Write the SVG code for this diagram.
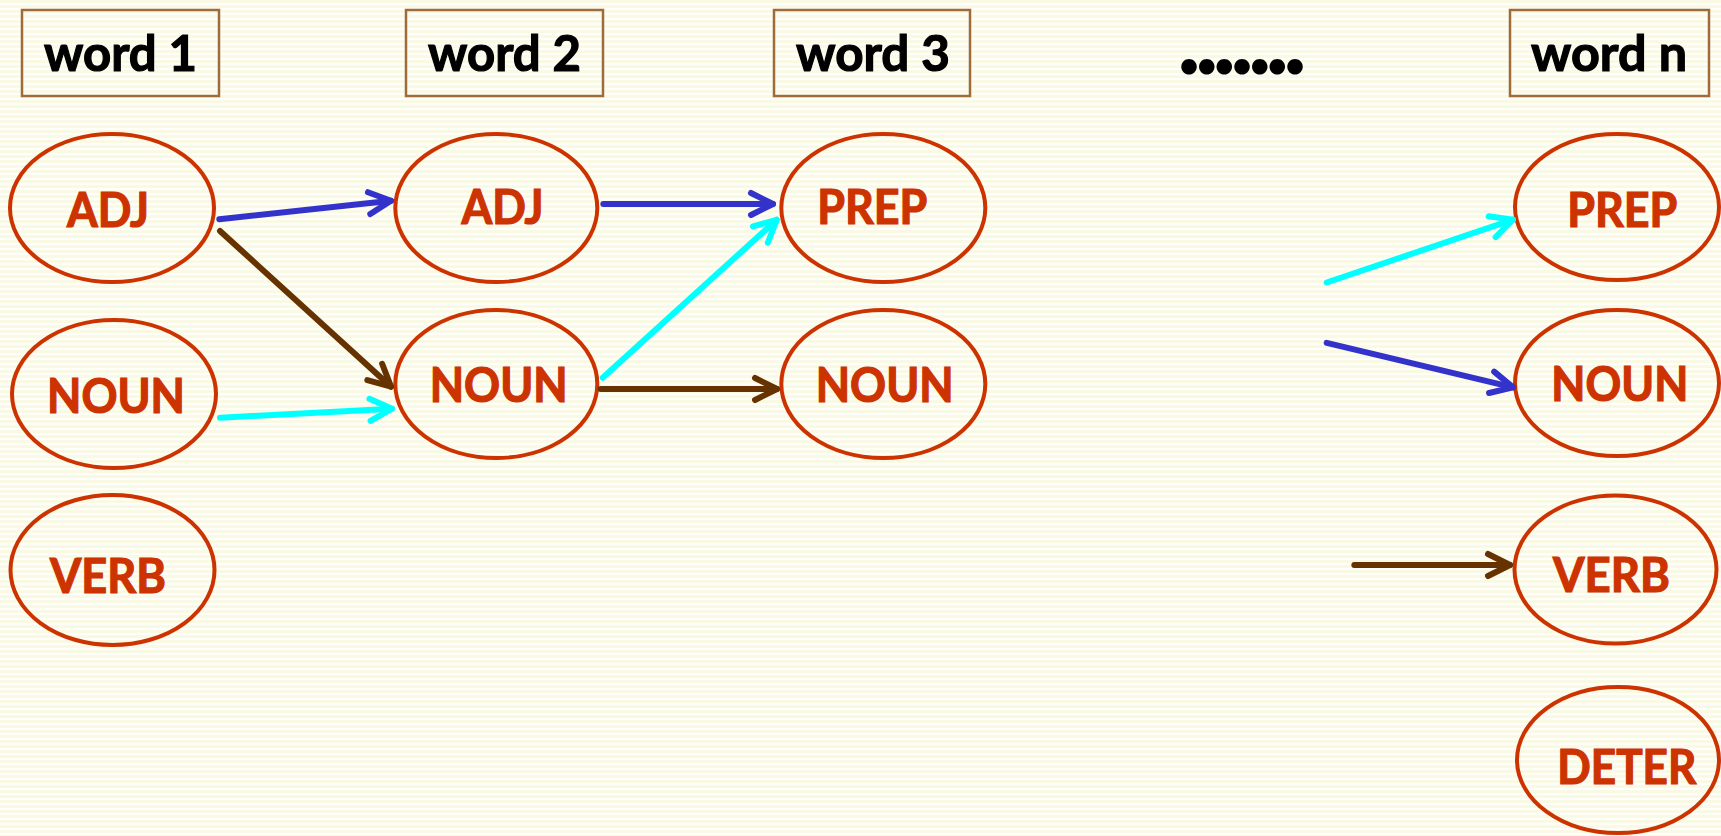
<svg xmlns="http://www.w3.org/2000/svg" width="1721" height="836" viewBox="0 0 1721 836">
<style>
.box{fill:none;stroke:#9e6b3b;stroke-width:2.5}
.wt{font-family:Lato,"Liberation Sans",sans-serif;font-weight:700;font-size:50px;fill:#000;stroke:#000;stroke-width:1.2}
.dots{font-family:Lato,"Liberation Sans",sans-serif;font-weight:700;font-size:76px;fill:#000;stroke:#000;stroke-width:4;stroke-linejoin:round}
.node ellipse{fill:none;stroke:#cc3300;stroke-width:4}
.nt{font-family:Lato,"Liberation Sans",sans-serif;font-weight:700;font-size:47px;fill:#cc3300;stroke:#cc3300;stroke-width:1.2}
.c{fill:none;stroke-width:6;stroke-linecap:round}
.blue{stroke:#3333cc}
.cyan{stroke:#00ffff}
.brown{stroke:#663300}
</style>
<defs>
<pattern id="bg" width="10" height="5" patternUnits="userSpaceOnUse">
<rect width="10" height="5" fill="#fefefa"/>
<rect width="10" height="3" fill="#f9f9e4"/>
</pattern>
<marker id="mb" markerUnits="userSpaceOnUse" markerWidth="40" markerHeight="40" viewBox="-30 -20 40 40" refX="0" refY="0" orient="auto">
<path d="M-22,-11 L0,0 L-22,11" fill="none" stroke="#3333cc" stroke-width="6" stroke-linecap="round" stroke-linejoin="round"/>
</marker>
<marker id="mc" markerUnits="userSpaceOnUse" markerWidth="40" markerHeight="40" viewBox="-30 -20 40 40" refX="0" refY="0" orient="auto">
<path d="M-22,-11 L0,0 L-22,11" fill="none" stroke="#00ffff" stroke-width="6" stroke-linecap="round" stroke-linejoin="round"/>
</marker>
<marker id="mr" markerUnits="userSpaceOnUse" markerWidth="40" markerHeight="40" viewBox="-30 -20 40 40" refX="0" refY="0" orient="auto">
<path d="M-22,-11 L0,0 L-22,11" fill="none" stroke="#663300" stroke-width="6" stroke-linecap="round" stroke-linejoin="round"/>
</marker>
</defs>
<rect width="1721" height="836" fill="url(#bg)"/>

<g id="word1"><rect class="box" x="22" y="10" width="197" height="86"/><text class="wt" x="44" y="71" textLength="153" lengthAdjust="spacingAndGlyphs">word 1</text></g>
<g id="word2"><rect class="box" x="406" y="10" width="197" height="86"/><text class="wt" x="428" y="71" textLength="153" lengthAdjust="spacingAndGlyphs">word 2</text></g>
<g id="word3"><rect class="box" x="774" y="10" width="196" height="86"/><text class="wt" x="796" y="71" textLength="154" lengthAdjust="spacingAndGlyphs">word 3</text></g>
<g id="dots"><text class="dots" x="1180" y="72" textLength="124" lengthAdjust="spacing">.......</text></g>
<g id="wordn"><rect class="box" x="1510" y="10" width="199" height="86"/><text class="wt" x="1531" y="70.5" textLength="156" lengthAdjust="spacingAndGlyphs">word n</text></g>

<g id="adj1" class="node"><ellipse cx="112" cy="208" rx="102" ry="74"/><text class="nt" x="67" y="226.5" textLength="82" lengthAdjust="spacingAndGlyphs">ADJ</text></g>
<g id="noun1" class="node"><ellipse cx="114" cy="394" rx="102" ry="74"/><text class="nt" x="47" y="412.7" textLength="138" lengthAdjust="spacingAndGlyphs">NOUN</text></g>
<g id="verb1" class="node"><ellipse cx="112.5" cy="570" rx="102" ry="75"/><text class="nt" x="50" y="592.7" textLength="116" lengthAdjust="spacingAndGlyphs">VERB</text></g>

<g id="adj2" class="node"><ellipse cx="496.3" cy="208" rx="101" ry="74"/><text class="nt" x="461.5" y="224" textLength="82" lengthAdjust="spacingAndGlyphs">ADJ</text></g>
<g id="noun2" class="node"><ellipse cx="496.3" cy="384" rx="101" ry="74"/><text class="nt" x="429.7" y="401.7" textLength="138" lengthAdjust="spacingAndGlyphs">NOUN</text></g>

<g id="prep3" class="node"><ellipse cx="883.3" cy="208" rx="102" ry="74"/><text class="nt" x="817.3" y="224" textLength="110" lengthAdjust="spacingAndGlyphs">PREP</text></g>
<g id="noun3" class="node"><ellipse cx="883.3" cy="384" rx="102" ry="74"/><text class="nt" x="815.7" y="401.7" textLength="138" lengthAdjust="spacingAndGlyphs">NOUN</text></g>

<g id="prepn" class="node"><ellipse cx="1617" cy="207" rx="102" ry="73"/><text class="nt" x="1567.3" y="226.5" textLength="110" lengthAdjust="spacingAndGlyphs">PREP</text></g>
<g id="nounn" class="node"><ellipse cx="1617" cy="383" rx="102" ry="73"/><text class="nt" x="1551.3" y="401" textLength="137" lengthAdjust="spacingAndGlyphs">NOUN</text></g>
<g id="verbn" class="node"><ellipse cx="1615.5" cy="569.5" rx="101" ry="74"/><text class="nt" x="1553" y="591.7" textLength="117" lengthAdjust="spacingAndGlyphs">VERB</text></g>
<g id="detern" class="node"><ellipse cx="1618" cy="760" rx="101" ry="73"/><text class="nt" x="1557.3" y="784" textLength="139" lengthAdjust="spacingAndGlyphs">DETER</text></g>

<g id="connectors">
<line class="c blue" x1="219.3" y1="219.3" x2="391" y2="200.8" marker-end="url(#mb)"/>
<line class="c brown" x1="220" y1="231" x2="391" y2="386.7" marker-end="url(#mr)"/>
<line class="c cyan" x1="220" y1="417.7" x2="392" y2="408.7" marker-end="url(#mc)"/>
<line class="c blue" x1="603.3" y1="204" x2="773" y2="204" marker-end="url(#mb)"/>
<line class="c cyan" x1="602.7" y1="377.7" x2="776.7" y2="219.8" marker-end="url(#mc)"/>
<line class="c brown" x1="600.7" y1="389" x2="777" y2="389" marker-end="url(#mr)"/>
<line class="c cyan" x1="1326.7" y1="282.5" x2="1513" y2="219.7" marker-end="url(#mc)"/>
<line class="c blue" x1="1326.7" y1="342.8" x2="1513" y2="387.4" marker-end="url(#mb)"/>
<line class="c brown" x1="1354.3" y1="565" x2="1510" y2="565" marker-end="url(#mr)"/>
</g>
</svg>
